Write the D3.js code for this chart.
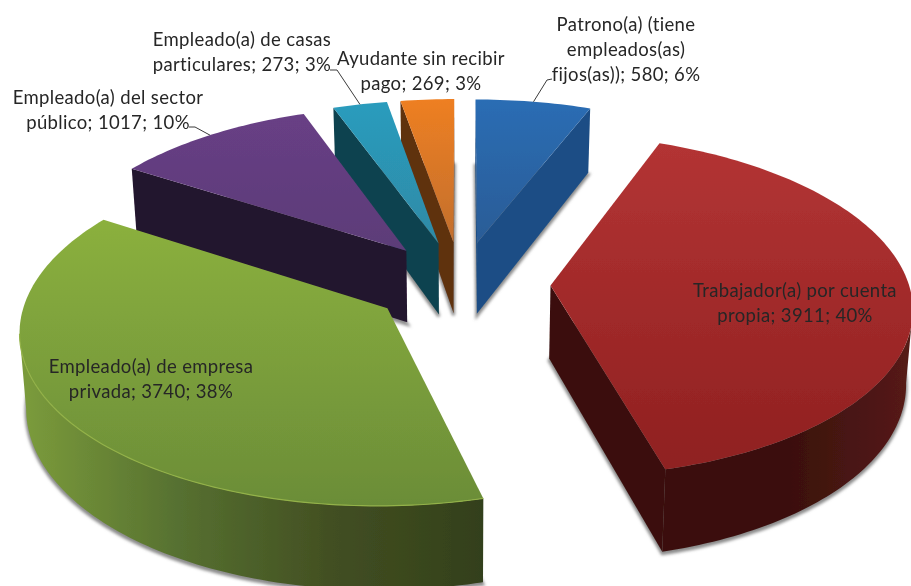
<!DOCTYPE html>
<html>
<head>
<meta charset="utf-8">
<script src="https://cdn.jsdelivr.net/npm/d3@7"></script>
<style>
html, body { margin: 0; padding: 0; background: #fff; }
svg { display: block; }
</style>
</head>
<body>
<svg></svg>
<script>
var width = 911;
var height = 586;

var categories = ["Patrono(a) (tiene empleados(as) fijos(as))", "Trabajador(a) por cuenta propia",
    "Empleado(a) de empresa privada", "Empleado(a) del sector público",
    "Empleado(a) de casas particulares", "Ayudante sin recibir pago"];
var values = [580, 3911, 3740, 1017, 273, 269];
var percents = [6, 40, 38, 10, 3, 3];

// how each label breaks, the last line holds value and percent
var labelLines = [
    ["Patrono(a) (tiene", "empleados(as)", "fijos(as));"],
    ["Trabajador(a) por cuenta", "propia;"],
    ["Empleado(a) de empresa", "privada;"],
    ["Empleado(a) del sector", "público;"],
    ["Empleado(a) de casas", "particulares;"],
    ["Ayudante sin recibir", "pago;"]
];

var topColors = [["#2c6db4", "#2c5c96"], ["#b33434", "#8f2020"], ["#8bb03e", "#6b8d38"],
    ["#683f85", "#5c3c78"], ["#2b9cbd", "#2e8aa6"], ["#ee7f22", "#c26f2e"]];
var edgeColors = ["#1c4e85", "#3a100e", "#34401a", "#24142f", "#10424f", "#5e3010"];
var rimColors = [["#1c4e85", "#1c4e85"], ["#3a100e", "#3a100e", "#3a100e", "#551a16"],
    ["#7a9a3b", "#567030", "#424f22", "#33401a"],
    ["#24142f", "#24142f"], ["#10424f", "#10424f"], ["#5e3010", "#5e3010"]];
var rimExtent = [[477, 590], [549, 905], [28, 483], [132, 406], [334, 439], [400, 454]];
var rimHighlight = [null, null, "#93b248", null, null, null];

// label block: centre x and first baseline
var labelX = [626, 795, 151, 108, 242, 421];
var labelY = [31, 297, 373, 104, 46, 65];
var leaderEnd = [[[547, 80], [552, 79]], null, null, [[195, 127], [189, 127]], [[337, 70], [330, 70]], null];

// camera of the tilted pie
var cx = 461, cy = 283, ax = 358, by = 168.5, persp = 0.1156;
var explode = 0.25, depth = 73, shrink = 0.985;
var drawOrder = [0, 5, 4, 3, 2, 1];

function topPoint(p) {
    var w = 1 + persp * p[1];
    return [cx + ax * p[0] / w, cy - by * p[1] / w];
}
function bottomPoint(p) {
    var s = topPoint(p);
    var w = 1 + persp * p[1];
    return [cx + (s[0] - cx) * shrink, s[1] + depth / w];
}

var arcs = d3.pie().sort(null).value(d => d)(values);

function planeAt(d, t, r) {
    var mid = (d.startAngle + d.endAngle) / 2;
    return [explode * Math.sin(mid) + r * Math.sin(t), explode * Math.cos(mid) + r * Math.cos(t)];
}
function rimAngles(d) {
    var n = Math.max(4, Math.ceil((d.endAngle - d.startAngle) / 0.02));
    return d3.range(n + 1).map(i => d.startAngle + (d.endAngle - d.startAngle) * i / n);
}

var line = d3.line();

var svg = d3.select("svg")
    .attr("width", width)
    .attr("height", height)
    .style("font-family", "Lato, sans-serif");

var defs = svg.append("defs");
defs.append("filter").attr("id", "soft")
    .attr("x", "-10%").attr("y", "-10%").attr("width", "120%").attr("height", "120%")
    .append("feGaussianBlur").attr("stdDeviation", 1.6);
defs.append("filter").attr("id", "print")
    .append("feGaussianBlur").attr("stdDeviation", 0.35);

topColors.forEach(function (c, i) {
    var g = defs.append("linearGradient").attr("id", "top" + i)
        .attr("x1", 0).attr("y1", 0).attr("x2", 0).attr("y2", 1);
    g.append("stop").attr("offset", "0%").attr("stop-color", c[0]);
    g.append("stop").attr("offset", "100%").attr("stop-color", c[1]);
});

rimColors.forEach(function (c, i) {
    defs.append("linearGradient").attr("id", "rim" + i)
        .attr("gradientUnits", "userSpaceOnUse")
        .attr("x1", rimExtent[i][0]).attr("y1", 0).attr("x2", rimExtent[i][1]).attr("y2", 0)
        .selectAll("stop").data(c).enter().append("stop")
        .attr("offset", (s, k) => k / (c.length - 1))
        .attr("stop-color", s => s);
});

var chart = svg.append("g").attr("filter", "url(#print)");

drawOrder.forEach(function (i) {
    var d = arcs[i];
    var rim = rimAngles(d).map(t => planeAt(d, t, 1));
    var apex = planeAt(d, 0, 0);
    var outline = [apex].concat(rim, [apex]);
    var g = chart.append("g");

    // soft shadow under the slice
    g.append("path")
        .attr("d", line(outline.map(bottomPoint)) + "Z")
        .attr("transform", "translate(0,2)")
        .attr("fill", "#8c8c8c")
        .attr("stroke", "#8c8c8c")
        .attr("stroke-width", 3)
        .attr("filter", "url(#soft)");

    // a wall shows only where its edge runs right to left on screen
    [[apex, rim[0]], [rim[rim.length - 1], apex]].forEach(function (edge) {
        if (topPoint(edge[1])[0] >= topPoint(edge[0])[0]) return;
        g.append("path")
            .attr("d", line([topPoint(edge[0]), topPoint(edge[1]), bottomPoint(edge[1]), bottomPoint(edge[0])]) + "Z")
            .attr("fill", edgeColors[i]);
    });

    var front = rim.filter(function (p, k) {
        return (k > 0 && topPoint(p)[0] < topPoint(rim[k - 1])[0]) ||
            (k < rim.length - 1 && topPoint(rim[k + 1])[0] < topPoint(p)[0]);
    });
    if (front.length) {
        g.append("path")
            .attr("d", line(front.map(topPoint).concat(front.map(bottomPoint).reverse())) + "Z")
            .attr("fill", "url(#rim" + i + ")");
    }

    g.append("path")
        .attr("d", line(outline.map(topPoint)) + "Z")
        .attr("fill", "url(#top" + i + ")");

    if (rimHighlight[i] && front.length) {
        g.append("path")
            .attr("d", line(front.map(topPoint)))
            .attr("fill", "none")
            .attr("stroke", rimHighlight[i])
            .attr("stroke-width", 1.2);
    }
});

// leader lines from the rim to the labels
var leaders = svg.append("g").attr("fill", "none").attr("stroke", "#3a3a3a").attr("stroke-width", 1);
arcs.forEach(function (d, i) {
    if (!leaderEnd[i]) return;
    var mid = (d.startAngle + d.endAngle) / 2;
    leaders.append("path").attr("d", line([topPoint(planeAt(d, mid, 1))].concat(leaderEnd[i])));
});

var labels = svg.append("g")
    .attr("fill", "#262626")
    .style("font-size", "18.5px")
    .style("letter-spacing", "0.35px")
    .attr("text-anchor", "middle");

labelLines.forEach(function (lines, i) {
    var text = labels.append("text").attr("aria-label", categories[i]);
    lines.forEach(function (s, k) {
        var last = k === lines.length - 1;
        text.append("tspan")
            .attr("x", labelX[i])
            .attr("y", labelY[i] + k * 24.8)
            .text(last ? s + " " + values[i] + "; " + percents[i] + "%" : s);
    });
});
</script>
</body>
</html>
